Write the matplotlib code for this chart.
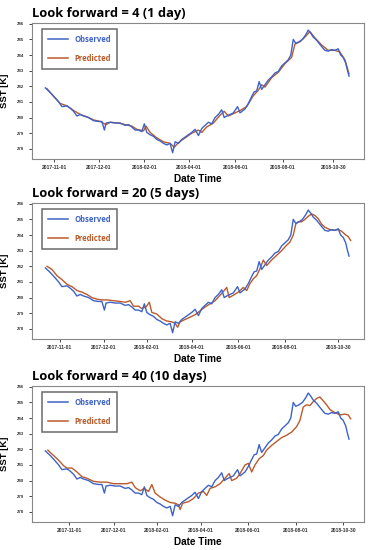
#!/usr/bin/env python3
# -*- coding: utf-8 -*-
"""
SST observed vs predicted for three look-forward horizons
"""

import matplotlib
matplotlib.use('Agg')
import matplotlib.pyplot as plt

plt.rcParams['font.family'] = ['Open Sans', 'DejaVu Sans']

# ---- data (day index since start of record, SST in K) ----
obs_day = [0, 6, 12, 16, 20, 26, 30, 34, 38, 42, 46, 52, 58, 64, 68, 71, 73, 78, 84, 90,
           96, 100, 104, 108, 112, 116, 119, 122, 126, 130, 134, 138, 142, 146, 150, 153,
           156, 160, 164, 168, 172, 176, 180, 184, 188, 192, 196, 200, 204, 208, 212, 215,
           218, 222, 226, 231, 234, 240, 244, 248, 251, 254, 257, 260, 264, 268, 272, 276,
           280, 284, 288, 292, 295, 298, 301, 305, 309, 313, 316, 319, 322, 326, 329, 332,
           336, 340, 344, 348, 352, 355, 358, 361, 363, 365]
obs_sst = [281.9, 281.6, 281.25, 281.0, 280.7, 280.75, 280.6, 280.4, 280.1, 280.2, 280.1,
           280.0, 279.8, 279.75, 279.75, 279.2, 279.65, 279.7, 279.65, 279.65, 279.5, 279.55,
           279.4, 279.2, 279.2, 279.1, 279.6, 279.05, 278.9, 278.8, 278.6, 278.5, 278.35,
           278.25, 278.35, 277.75, 278.45, 278.35, 278.6, 278.75, 278.9, 279.05, 279.25,
           278.85, 279.3, 279.5, 279.7, 279.6, 280.0, 280.2, 280.5, 280.0, 280.1, 280.2,
           280.3, 280.7, 280.3, 280.55, 280.9, 281.35, 281.65, 281.7, 282.3, 281.8, 282.1,
           282.4, 282.6, 282.85, 282.95, 283.3, 283.5, 283.7, 284.0, 285.0, 284.75, 284.85,
           285.0, 285.3, 285.6, 285.4, 285.15, 284.95, 284.75, 284.55, 284.3, 284.25, 284.35,
           284.3, 284.4, 284.0, 283.85, 283.5, 283.05, 282.65]

pred4_day = [2, 10, 18, 26, 34, 42, 50, 58, 66, 73, 78, 88, 96, 104, 110, 118, 121, 126,
             134, 142, 150, 155, 160, 168, 176, 184, 188, 194, 202, 210, 215, 220, 228, 234,
             242, 250, 256, 260, 264, 272, 280, 288, 296, 300, 306, 312, 318, 324, 332, 340,
             348, 354, 360, 365]
pred4_sst = [281.85, 281.35, 280.9, 280.75, 280.45, 280.2, 280.05, 279.85, 279.75, 279.55,
             279.7, 279.65, 279.55, 279.45, 279.25, 279.15, 279.45, 279.05, 278.7, 278.45,
             278.35, 278.1, 278.4, 278.7, 279.0, 279.2, 279.05, 279.4, 279.65, 280.15, 280.4,
             280.1, 280.3, 280.45, 280.7, 281.4, 281.75, 282.1, 281.95, 282.55, 282.9, 283.45,
             283.85, 284.7, 284.85, 285.15, 285.5, 285.1, 284.65, 284.3, 284.3, 284.2, 283.7,
             282.8]

pred20_day = [2, 8, 14, 20, 26, 32, 38, 44, 50, 56, 62, 68, 74, 82, 90, 96, 102, 106, 112,
              116, 121, 125, 128, 134, 140, 146, 152, 156, 159, 162, 168, 174, 180, 186, 192,
              198, 204, 210, 215, 218, 221, 226, 232, 238, 242, 246, 250, 254, 258, 262, 266,
              272, 278, 284, 290, 294, 298, 301, 304, 308, 312, 316, 320, 324, 328, 332, 336,
              342, 348, 352, 356, 360, 364, 367]
pred20_sst = [282.0, 281.8, 281.4, 281.15, 280.85, 280.7, 280.45, 280.35, 280.2, 280.0, 279.9,
              279.85, 279.85, 279.8, 279.75, 279.7, 279.8, 279.45, 279.45, 279.3, 279.4, 279.7,
              279.05, 278.95, 278.65, 278.5, 278.45, 278.35, 278.1, 278.45, 278.6, 278.75,
              278.9, 279.15, 279.4, 279.6, 279.8, 280.15, 280.45, 280.65, 280.0, 280.15,
              280.35, 280.65, 280.45, 280.9, 281.2, 281.4, 281.85, 282.4, 282.05, 282.4, 282.7,
              283.0, 283.35, 283.55, 284.0, 284.7, 284.85, 284.85, 285.0, 285.2, 285.35,
              285.25, 285.05, 284.7, 284.5, 284.35, 284.3, 284.35, 284.25, 284.05, 283.9,
              283.65]

pred40_day = [3, 10, 16, 22, 26, 32, 38, 44, 50, 58, 66, 74, 82, 90, 98, 104, 108, 114, 119,
              124, 128, 132, 138, 144, 150, 156, 160, 162, 165, 172, 178, 184, 190, 194, 198,
              204, 210, 216, 221, 224, 230, 234, 240, 244, 248, 252, 257, 262, 266, 272, 278,
              284, 290, 296, 302, 306, 310, 314, 318, 322, 326, 330, 334, 338, 342, 346, 350,
              354, 360, 364, 367]
pred40_sst = [281.95, 281.6, 281.3, 280.95, 280.8, 280.8, 280.55, 280.25, 280.15, 279.95,
              279.9, 279.9, 279.8, 279.8, 279.8, 279.9, 279.55, 279.35, 279.5, 279.3, 279.75,
              279.2, 278.95, 278.75, 278.6, 278.55, 278.45, 278.15, 278.55, 278.65, 278.85,
              279.2, 279.3, 279.05, 279.5, 279.6, 279.8, 280.15, 280.45, 280.0, 280.15,
              280.45, 281.0, 281.1, 280.55, 281.0, 281.4, 281.6, 281.95, 282.25, 282.5,
              282.75, 282.9, 283.1, 283.45, 283.85, 284.7, 284.85, 284.8, 285.05, 285.25,
              285.35, 285.1, 284.85, 284.55, 284.4, 284.3, 284.2, 284.25, 284.2, 283.95]

date_labels = ['2017-11-01', '2017-12-01', '2018-02-01', '2018-04-01',
               '2018-06-01', '2018-08-01', '2018-10-30']
yticks = [278, 279, 280, 281, 282, 283, 284, 285, 286]

obs_color = '#3d63c8'
pred_color = '#bb5a2a'
arial = ['Liberation Sans', 'DejaVu Sans']


def draw_panel(ax, title, pred_day, pred_sst, tick_pos):
    ax.plot(pred_day, pred_sst, color=pred_color, lw=1.0, label='Predicted', zorder=2)
    ax.plot(obs_day, obs_sst, color=obs_color, lw=1.0, label='Observed', zorder=3)

    ax.set_xlim(-16, 383)
    ax.set_ylim(277.35, 286.05)
    ax.set_yticks(yticks)
    ax.set_xticks(tick_pos)
    ax.set_xticklabels(date_labels)
    ax.tick_params(axis='x', labelsize=3.6, length=2, width=0.5, pad=2.5)
    ax.tick_params(axis='y', labelsize=3.2, length=2, width=0.5, pad=4)
    for lab in ax.get_xticklabels() + ax.get_yticklabels():
        lab.set_family(arial)
        lab.set_fontweight('bold')
        lab.set_color('#333333')
    for sp in ax.spines.values():
        sp.set_color('#888888')
        sp.set_linewidth(0.8)

    ax.set_title(title, loc='left', fontsize=9.3, fontweight='bold', pad=4)
    ax.set_xlabel('Date Time', fontsize=7.2, fontweight='bold', family=arial, labelpad=2.5)
    ax.set_ylabel('SST [K]', fontsize=6.8, fontweight='bold', family=arial, labelpad=5)

    handles, labels = ax.get_legend_handles_labels()
    leg = ax.legend(handles[::-1], labels[::-1], loc='upper left',
                    bbox_to_anchor=(0.03, 0.955), prop={'size': 5.5, 'weight': 'bold'},
                    frameon=True, fancybox=False, handlelength=2.7, labelspacing=1.3,
                    borderpad=0.75, handletextpad=0.8, borderaxespad=0)
    leg.get_frame().set_edgecolor('#444444')
    leg.get_frame().set_linewidth(1.1)
    for line in leg.get_lines():
        line.set_linewidth(1.1)
    for txt, col in zip(leg.get_texts(), [obs_color, pred_color]):
        txt.set_color(col)


fig = plt.figure(figsize=(3.73, 5.5), dpi=100)
W, H = 373.0, 550.0
panels = [
    ('Look forward = 4 (1 day)', pred4_day, pred4_sst,
     [10.8, 64.4, 119.2, 172.4, 228.4, 285.2, 346], 23, 159),
    ('Look forward = 20 (5 days)', pred20_day, pred20_sst,
     [17.2, 70, 122, 176, 232, 288, 352], 203, 339),
    ('Look forward = 40 (10 days)', pred40_day, pred40_sst,
     [28.8, 82, 134, 187.2, 243.2, 300.8, 358], 386, 522),
]
for title, pd_, ps_, ticks, top, bot in panels:
    ax = fig.add_axes([32 / W, 1 - bot / H, (364 - 32) / W, (bot - top) / H])
    draw_panel(ax, title, pd_, ps_, ticks)

fig.savefig('out.png', dpi=100, facecolor='white')
